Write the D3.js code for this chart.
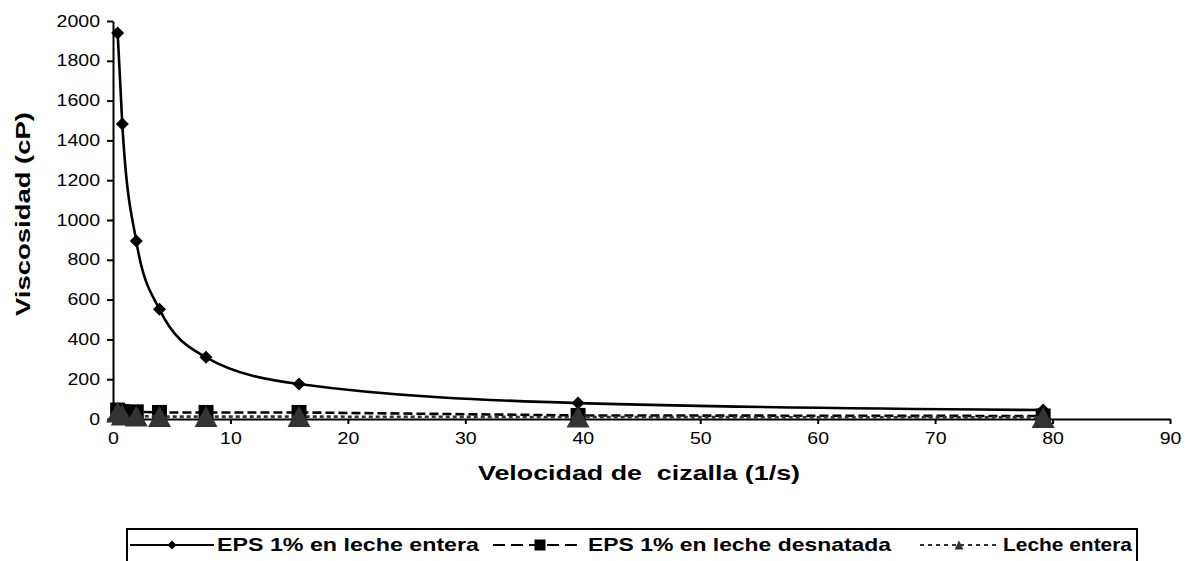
<!DOCTYPE html>
<html>
<head>
<meta charset="utf-8">
<script src="https://cdn.jsdelivr.net/npm/d3@7"></script>
<style>
  html, body { margin: 0; padding: 0; background: #fff; }
  svg { display: block; font-family: "Liberation Sans", Arial, sans-serif; }
</style>
</head>
<body>
<svg id="chart" width="1192" height="561"></svg>
<script>
// ---- data ----
const shearRate = [0.396, 0.792, 1.98, 3.96, 7.92, 15.84, 39.6, 79.2];
const epsLecheEntera = [1940, 1482, 894, 551, 310, 176, 80, 45];
const epsLecheDesnatada = [45, 38, 36, 33, 33, 33, 18, 15];
const lecheEntera = [35, 20, 15, 12, 12, 12, 10, 8];
const seriesNames = ["EPS 1% en leche entera", "EPS 1% en leche desnatada", "Leche entera"];
const xTickValues = [0, 10, 20, 30, 40, 50, 60, 70, 80, 90];
const yTickValues = [0, 200, 400, 600, 800, 1000, 1200, 1400, 1600, 1800, 2000];
const xTitle = "Velocidad de  cizalla (1/s)";
const yTitle = "Viscosidad (cP)";

// ---- setup ----
const svg = d3.select("#chart");
svg.append("rect").attr("width", 1192).attr("height", 561).attr("fill", "#fff");

const x = d3.scaleLinear().domain([0, 90]).range([113, 1170]);
const y = d3.scaleLinear().domain([0, 2000]).range([419, 21]);

function stretch(sel, f) {
  sel.each(function () {
    const w = this.getComputedTextLength();
    d3.select(this).attr("textLength", w * f).attr("lengthAdjust", "spacingAndGlyphs");
  });
}

// ---- axes ----
const yAxis = svg.append("g")
  .attr("transform", `translate(${x(0)},0)`)
  .call(d3.axisLeft(y).tickValues(yTickValues).tickSize(6).tickSizeOuter(0).tickPadding(7)
    .tickFormat(d3.format("d")));
yAxis.select(".domain").attr("stroke", "#000").attr("stroke-width", 2);
yAxis.selectAll(".tick line").attr("stroke", "#000").attr("stroke-width", 2);
yAxis.selectAll(".tick text").attr("font-size", 16).attr("fill", "#000")
  .attr("font-family", "'Liberation Sans', Arial, sans-serif");
stretch(yAxis.selectAll(".tick text"), 1.22);

const xAxis = svg.append("g")
  .attr("transform", `translate(0,${y(0)})`)
  .call(d3.axisBottom(x).tickValues(xTickValues).tickSize(5).tickSizeOuter(0).tickPadding(9)
    .tickFormat(d3.format("d")));
xAxis.select(".domain").attr("stroke", "#000").attr("stroke-width", 2);
xAxis.selectAll(".tick line").attr("stroke", "#000").attr("stroke-width", 2);
xAxis.selectAll(".tick text").attr("font-size", 16).attr("fill", "#000")
  .attr("font-family", "'Liberation Sans', Arial, sans-serif");
stretch(xAxis.selectAll(".tick text"), 1.22);

// ---- titles ----
svg.append("text")
  .attr("x", 639).attr("y", 480)
  .attr("text-anchor", "middle")
  .attr("font-size", 21).attr("font-weight", "bold")
  .style("white-space", "pre")
  .attr("textLength", 322).attr("lengthAdjust", "spacingAndGlyphs")
  .text(xTitle);

svg.append("text")
  .attr("transform", "translate(30,214) rotate(-90)")
  .attr("text-anchor", "middle")
  .attr("font-size", 21).attr("font-weight", "bold")
  .attr("textLength", 204).attr("lengthAdjust", "spacingAndGlyphs")
  .text(yTitle);

// ---- series ----
const pts = vals => shearRate.map((xv, i) => [xv, vals[i]]);

const smooth = d3.line().x(d => x(d[0])).y(d => y(d[1])).curve(d3.curveMonotoneX);
const straight = d3.line().x(d => x(d[0])).y(d => y(d[1]));

const diamond = s => `M0,${-s}L${s},0L0,${s}L${-s},0Z`;
const square = s => `M${-s},${-s}H${s}V${s}H${-s}Z`;
const triangle = (w, h) => `M0,${-h / 2}L${w / 2},${h / 2}L${-w / 2},${h / 2}Z`;

// series 1
const g1 = svg.append("g");
g1.append("path").attr("d", smooth(pts(epsLecheEntera)))
  .attr("fill", "none").attr("stroke", "#000").attr("stroke-width", 2.6);
g1.selectAll("path.m").data(pts(epsLecheEntera)).join("path").attr("class", "m")
  .attr("transform", d => `translate(${x(d[0])},${y(d[1])})`)
  .attr("d", diamond(6.5)).attr("fill", "#000");

// series 2
const g2 = svg.append("g");
g2.append("path").attr("d", straight(pts(epsLecheDesnatada)))
  .attr("fill", "none").attr("stroke", "#000").attr("stroke-width", 2.6)
  .attr("stroke-dasharray", "9,4");
g2.selectAll("path.m").data(pts(epsLecheDesnatada)).join("path").attr("class", "m")
  .attr("transform", d => `translate(${x(d[0])},${y(d[1])})`)
  .attr("d", square(7.5)).attr("fill", "#000");

// series 3
const g3 = svg.append("g");
g3.append("path").attr("d", straight(pts(lecheEntera)))
  .attr("fill", "none").attr("stroke", "#333").attr("stroke-width", 2.6)
  .attr("stroke-dasharray", "4,3");
g3.selectAll("path.m").data(pts(lecheEntera)).join("path").attr("class", "m")
  .attr("transform", d => `translate(${x(d[0])},${y(d[1])})`)
  .attr("d", triangle(23, 21)).attr("fill", "#333");

// ---- legend ----
const lg = svg.append("g");
lg.append("rect").attr("x", 127).attr("y", 529).attr("width", 1010).attr("height", 60)
  .attr("fill", "#fff").attr("stroke", "#000").attr("stroke-width", 2);

const ly = 545;
const legendItems = [
  { x1: 130, x2: 214, mx: 172, dash: null, color: "#000", marker: diamond(4.5), tx: 217, tl: 262 },
  { x1: 493, x2: 583, mx: 540, dash: "12,6", color: "#000", marker: square(5.5), tx: 588, tl: 303 },
  { x1: 920, x2: 996, mx: 959, dash: "4,4", color: "#333", marker: triangle(9, 9), tx: 1003, tl: 129 }
];
legendItems.forEach((it, i) => {
  lg.append("line").attr("x1", it.x1).attr("x2", it.x2).attr("y1", ly).attr("y2", ly)
    .attr("stroke", it.color).attr("stroke-width", 2)
    .attr("stroke-dasharray", it.dash);
  lg.append("path").attr("transform", `translate(${it.mx},${ly})`).attr("d", it.marker)
    .attr("fill", it.color);
  lg.append("text").attr("x", it.tx).attr("y", 551)
    .attr("font-size", 18.5).attr("font-weight", "bold")
    .attr("textLength", it.tl).attr("lengthAdjust", "spacingAndGlyphs")
    .text(seriesNames[i]);
});
</script>
</body>
</html>
